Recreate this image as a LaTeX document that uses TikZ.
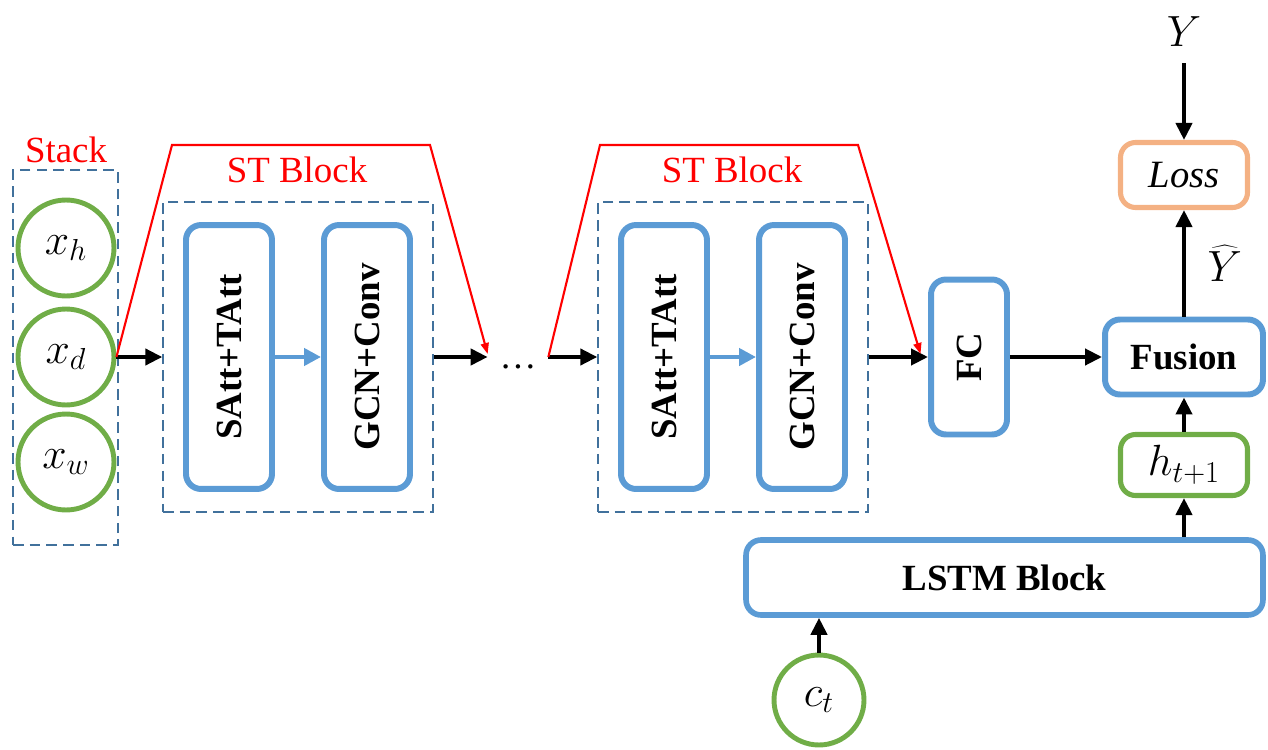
\documentclass[tikz,border=0pt]{standalone}
\usepackage{fontspec}
\setmainfont{Liberation Serif}
\usetikzlibrary{arrows.meta}
\definecolor{boxblue}{HTML}{5B9BD5}
\definecolor{dashblue}{HTML}{41719C}
\definecolor{ringgreen}{HTML}{70AD47}
\definecolor{lossorange}{HTML}{F4B183}
\tikzset{
  txt/.style={font=\fontsize{21}{25}\selectfont},
  mathtxt/.style={font=\fontsize{24}{28}\selectfont},
  blockbox/.style={draw=boxblue, line width=3.4pt, rounded corners=0.3cm, txt, font=\fontsize{21}{25}\selectfont\bfseries, inner sep=0pt},
  ring/.style={circle, draw=ringgreen, line width=2.8pt, minimum size=1.92cm, inner sep=0pt, mathtxt},
  dashbox/.style={draw=dashblue, line width=0.8pt, dash pattern=on 6pt off 3.5pt, inner sep=0pt},
  flow/.style={line width=2.3pt, -{Triangle[length=0.34cm, width=0.32cm]}},
  blueflow/.style={draw=boxblue, line width=2.8pt, -{Triangle[length=0.34cm, width=0.34cm]}},
  redline/.style={red, line width=1.2pt, -{Triangle[length=0.22cm, width=0.16cm]}},
  redlabel/.style={red, txt}
}
\begin{document}
\begin{tikzpicture}[x=0.02cm, y=-0.02cm]
			%%%%% START %%%%%
			\useasboundingbox (0, 0) rectangle (1268, 750);
			
			% stack of inputs
			\node[dashbox, minimum width=2.1cm, minimum height=7.5cm] (stack) at (65.5, 357.5) {};
			\node[redlabel] (stacklbl) at (66, 150) {Stack};
			\node[ring] (xh) at (66, 248) {$x_h$};
			\node[ring] (xd) at (66, 357) {$x_d$};
			\node[ring] (xw) at (66, 462) {$x_w$};
			
			% first ST block
			\node[dashbox, minimum width=5.4cm, minimum height=6.2cm] (st1) at (298, 357) {};
			\node[redlabel] (st1lbl) at (297, 170) {ST Block};
			\node[blockbox, minimum width=1.72cm, minimum height=5.28cm] (att1) at (229, 357) {\rotatebox{90}{SAtt+TAtt}};
			\node[blockbox, minimum width=1.72cm, minimum height=5.28cm] (gcn1) at (367, 357) {\rotatebox{90}{GCN+Conv}};
			
			\node[txt, minimum width=1.2cm, inner sep=0pt, text height=0.45cm, text depth=0pt] (dots) at (518, 357) {\dots};
			
			% second ST block
			\node[dashbox, minimum width=5.4cm, minimum height=6.2cm] (st2) at (733, 357) {};
			\node[redlabel] (st2lbl) at (732, 170) {ST Block};
			\node[blockbox, minimum width=1.72cm, minimum height=5.28cm] (att2) at (664, 357) {\rotatebox{90}{SAtt+TAtt}};
			\node[blockbox, minimum width=1.72cm, minimum height=5.28cm] (gcn2) at (802, 357) {\rotatebox{90}{GCN+Conv}};
			
			% output side
			\node[blockbox, minimum width=1.52cm, minimum height=3.1cm] (fc) at (969, 357) {\rotatebox{90}{FC}};
			\node[blockbox, minimum width=3.16cm, minimum height=1.5cm] (fusion) at (1184, 357) {Fusion};
			\node[blockbox, draw=lossorange, line width=2.9pt, minimum width=2.54cm, minimum height=1.3cm, font=\fontsize{22}{26}\selectfont\itshape] (loss) at (1184, 175) {Loss};
			\node[mathtxt] (Y) at (1184, 32) {$Y$};
			\node[blockbox, draw=ringgreen, line width=2.9pt, minimum width=2.54cm, minimum height=1.22cm, mathtxt] (hnext) at (1184, 465) {$h_{t+1}$};
			\node[blockbox, line width=3.2pt, minimum width=10.34cm, minimum height=1.5cm] (lstm) at (1004.5, 577.5) {LSTM Block};
			\node[ring, minimum size=1.8cm] (ct) at (819, 700) {$c_t$};
			
			% connectors
			\draw[flow] (xd.east) -- (st1.west);
			\draw[blueflow] (att1.east) -- (gcn1.west);
			\draw[flow] (st1.east) -- (dots.west);
			\draw[flow] (dots.east) -- (st2.west);
			\draw[blueflow] (att2.east) -- (gcn2.west);
			\draw[flow] (st2.east) -- (fc.west);
			\draw[flow] (fc.east) -- (fusion.west);
			\draw[flow] (fusion.north) -- node[mathtxt, right=9pt, pos=0.5] (yhat) {$\widehat{Y}$} (loss.south);
			\draw[flow] ([yshift=-0.2cm]Y.south) -- (loss.north);
			\draw[flow] (hnext.north) -- (fusion.south);
			\draw[flow] (lstm.north -| hnext.south) -- (hnext.south);
			\draw[flow] (ct.north) -- (ct.north |- lstm.south);
			
			% red brackets over the ST blocks
			\draw[redline] (xd.east) -- (172, 145) -- (430, 145) -- ([yshift=0.06cm]dots.west);
			\draw[redline] (dots.east) -- (600, 145) -- (858, 145) -- ([xshift=-0.15cm, yshift=0.06cm]fc.west);
			
			%%%%% END %%%%%
\end{tikzpicture}
\end{document}
